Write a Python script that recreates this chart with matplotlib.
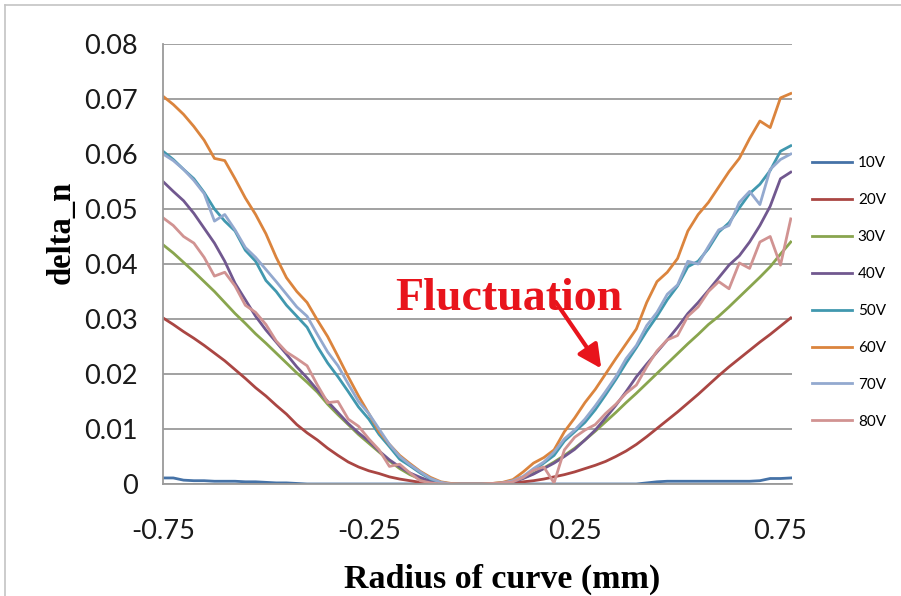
import matplotlib
matplotlib.use("Agg")
import matplotlib.pyplot as plt
import numpy as np
from matplotlib.lines import Line2D

# x positions (mm), step 0.025 from -0.75 to 0.775
radius = np.round(np.arange(-0.75, 0.7751, 0.025), 3)

labels = ["10V", "20V", "30V", "40V", "50V", "60V", "70V", "80V"]
colors = ["#4572A7", "#AA4643", "#89A54E", "#71588F",
          "#4198AF", "#DB843D", "#93A9CF", "#D19392"]

v10 = [0.0011, 0.0011, 0.0007, 0.0006, 0.0006, 0.0005, 0.0005, 0.0005, 0.0004, 0.0004,
       0.0003, 0.0002, 0.0002, 0.0001, 0, 0, 0, 0, 0, 0,
       0, 0, 0, 0, 0, 0, 0, 0, 0, 0,
       0, 0, 0, 0, 0, 0, 0, 0, 0, 0,
       0, 0, 0, 0, 0, 0, 0, 0.0002, 0.0004, 0.0005,
       0.0005, 0.0005, 0.0005, 0.0005, 0.0005, 0.0005, 0.0005, 0.0005, 0.0006, 0.0010,
       0.0010, 0.0011]
v20 = [0.0302, 0.0290, 0.0277, 0.0265, 0.0252, 0.0238, 0.0224, 0.0208, 0.0192, 0.0175,
       0.0160, 0.0143, 0.0127, 0.0108, 0.0093, 0.0080, 0.0065, 0.0052, 0.0040, 0.0031,
       0.0024, 0.0019, 0.0013, 0.0009, 0.0006, 0.0003, 0.0001, 0, 0, 0,
       0, 0, 0, 0.0001, 0.0002, 0.0004, 0.0006, 0.0009, 0.0013, 0.0017,
       0.0022, 0.0028, 0.0034, 0.0041, 0.0050, 0.0060, 0.0072, 0.0086, 0.0101, 0.0116,
       0.0131, 0.0147, 0.0163, 0.0180, 0.0197, 0.0213, 0.0228, 0.0243, 0.0258, 0.0272,
       0.0287, 0.0302]
v30 = [0.0435, 0.0420, 0.0403, 0.0386, 0.0368, 0.0350, 0.0330, 0.0310, 0.0292, 0.0273,
       0.0256, 0.0238, 0.0220, 0.0202, 0.0185, 0.0167, 0.0145, 0.0126, 0.0108, 0.0090,
       0.0074, 0.0058, 0.0042, 0.0028, 0.0017, 0.0009, 0.0004, 0.0001, 0, 0,
       0, 0, 0.0001, 0.0002, 0.0005, 0.0011, 0.0019, 0.0029, 0.0040, 0.0052,
       0.0065, 0.0080, 0.0096, 0.0113, 0.0130, 0.0148, 0.0165, 0.0183, 0.0201, 0.0219,
       0.0237, 0.0255, 0.0272, 0.0290, 0.0305, 0.0322, 0.0340, 0.0358, 0.0376, 0.0395,
       0.0418, 0.0440]
v40 = [0.0550, 0.0532, 0.0515, 0.0492, 0.0465, 0.0438, 0.0405, 0.0365, 0.0335, 0.0305,
       0.0280, 0.0258, 0.0236, 0.0213, 0.0193, 0.0171, 0.0150, 0.0130, 0.0110, 0.0093,
       0.0078, 0.0060, 0.0044, 0.0031, 0.0020, 0.0012, 0.0005, 0.0002, 0, 0,
       0, 0, 0, 0.0001, 0.0004, 0.0010, 0.0018, 0.0028, 0.0038, 0.0050,
       0.0063, 0.0080, 0.0098, 0.0120, 0.0143, 0.0168, 0.0195, 0.0218, 0.0240, 0.0262,
       0.0285, 0.0310, 0.0330, 0.0352, 0.0375, 0.0398, 0.0415, 0.0440, 0.0470, 0.0505,
       0.0555, 0.0567]
v50 = [0.0605, 0.0590, 0.0572, 0.0555, 0.0530, 0.0500, 0.0478, 0.0460, 0.0425, 0.0405,
       0.0370, 0.0350, 0.0325, 0.0305, 0.0285, 0.0250, 0.0220, 0.0195, 0.0168, 0.0140,
       0.0118, 0.0090, 0.0068, 0.0045, 0.0033, 0.0020, 0.0009, 0.0003, 0, 0,
       0, 0, 0, 0.0002, 0.0005, 0.0012, 0.0025, 0.0038, 0.0052, 0.0078,
       0.0095, 0.0112, 0.0135, 0.0162, 0.0190, 0.0220, 0.0248, 0.0278, 0.0305, 0.0335,
       0.0360, 0.0395, 0.0405, 0.0428, 0.0458, 0.0475, 0.0502, 0.0528, 0.0545, 0.0570,
       0.0605, 0.0615]
v60 = [0.0705, 0.0690, 0.0672, 0.0650, 0.0625, 0.0592, 0.0588, 0.0555, 0.0520, 0.0490,
       0.0455, 0.0412, 0.0375, 0.0350, 0.0330, 0.0298, 0.0268, 0.0232, 0.0195, 0.0160,
       0.0128, 0.0095, 0.0072, 0.0052, 0.0037, 0.0023, 0.0012, 0.0004, 0.0001, 0,
       0, 0, 0.0001, 0.0003, 0.0008, 0.0022, 0.0038, 0.0048, 0.0062, 0.0095,
       0.0120, 0.0148, 0.0172, 0.0200, 0.0228, 0.0255, 0.0282, 0.0330, 0.0368, 0.0385,
       0.0410, 0.0460, 0.0490, 0.0512, 0.0540, 0.0568, 0.0592, 0.0628, 0.0660, 0.0648,
       0.0702, 0.0710]
v70 = [0.0600, 0.0588, 0.0572, 0.0552, 0.0528, 0.0478, 0.0490, 0.0462, 0.0430, 0.0412,
       0.0390, 0.0368, 0.0345, 0.0322, 0.0305, 0.0272, 0.0240, 0.0215, 0.0182, 0.0150,
       0.0128, 0.0100, 0.0072, 0.0050, 0.0035, 0.0022, 0.0010, 0.0003, 0, 0,
       0, 0, 0, 0.0002, 0.0006, 0.0014, 0.0028, 0.0040, 0.0058, 0.0082,
       0.0098, 0.0118, 0.0142, 0.0168, 0.0195, 0.0228, 0.0252, 0.0288, 0.0312, 0.0345,
       0.0362, 0.0405, 0.0400, 0.0432, 0.0462, 0.0470, 0.0512, 0.0532, 0.0508, 0.0572,
       0.0590, 0.0600]
v80 = [0.0484, 0.0470, 0.0450, 0.0438, 0.0412, 0.0378, 0.0385, 0.0360, 0.0325, 0.0312,
       0.0290, 0.0260, 0.0240, 0.0228, 0.0215, 0.0180, 0.0148, 0.0150, 0.0118, 0.0105,
       0.0082, 0.0062, 0.0032, 0.0036, 0.0020, 0.0006, 0.0002, 0, 0, 0,
       0, 0, 0.0001, 0.0002, 0.0004, 0.0012, 0.0025, 0.0031, 0.0002, 0.0062,
       0.0085, 0.0098, 0.0108, 0.0128, 0.0145, 0.0165, 0.0180, 0.0213, 0.0242, 0.0262,
       0.0270, 0.0305, 0.0322, 0.0350, 0.0368, 0.0355, 0.0402, 0.0392, 0.0440, 0.0450,
       0.0398, 0.0482]

series = [v10, v20, v30, v40, v50, v60, v70, v80]

yticks = [0, 0.01, 0.02, 0.03, 0.04, 0.05, 0.06, 0.07, 0.08]
ytick_labels = ["0", "0.01", "0.02", "0.03", "0.04", "0.05", "0.06", "0.07", "0.08"]
xticks = [-0.75, -0.25, 0.25, 0.75]
xtick_labels = ["-0.75", "-0.25", "0.25", "0.75"]

plt.rcParams["font.family"] = ["Lato", "DejaVu Sans"]
serif = ["Liberation Serif", "DejaVu Serif"]
red = "#e8141c"
grid_col = "#9a9a9a"

W, H = 901, 596
fig = plt.figure(figsize=(W / 100, H / 100), dpi=100)
ax = fig.add_axes([163 / W, (H - 484) / H, (792 - 163) / W, (484 - 44) / H])

for vals, lab, col in zip(series, labels, colors):
    ax.plot(radius, vals, color=col, lw=2.0, label=lab, solid_joinstyle="round")

ax.set_xlim(-0.75, 0.778)
ax.set_ylim(0, 0.08)
ax.set_yticks(yticks)
ax.set_yticklabels(ytick_labels)
ax.set_xticks(xticks)
ax.set_xticklabels(xtick_labels)
ax.yaxis.grid(True, color=grid_col, lw=1.3)
ax.set_axisbelow(True)
for s in ("top", "right"):
    ax.spines[s].set_visible(False)
for s in ("left", "bottom"):
    ax.spines[s].set_color(grid_col)
    ax.spines[s].set_linewidth(1.3)
ax.tick_params(axis="y", length=0, pad=18, labelsize=19.5, labelcolor="#1a1a1a")
ax.tick_params(axis="x", length=0, pad=25, labelsize=19.5, labelcolor="#1a1a1a")

fig.legend(loc="center left", bbox_to_anchor=(812 / W, 1 - 292.5 / H),
           frameon=False, fontsize=11, handlelength=2.6, handletextpad=0.4,
           labelspacing=1.5, borderpad=0, borderaxespad=0)

fig.text(61 / W, 1 - 232 / H, "delta_n", rotation=90, ha="center", va="center",
         family=serif, fontweight="bold", fontsize=23.5)
fig.text(502 / W, (H - 588) / H, "Radius of curve (mm)", ha="center", va="baseline",
         family=serif, fontweight="bold", fontsize=24.5)

ax.text(0.091, 0.0316, "Fluctuation", color=red, fontsize=33, fontweight="bold",
        family=serif, ha="center", va="baseline")
ax.annotate("", xy=(0.3147, 0.0210), xytext=(0.204, 0.0331),
            arrowprops=dict(arrowstyle="-|>", color=red, lw=3, mutation_scale=35,
                            shrinkA=0, shrinkB=0))

# light frame of the original chart area (left and top edges)
fig.add_artist(Line2D([5 / W, 5 / W], [0, 1 - 5 / H], color="#c4c4c4", lw=1.2))
fig.add_artist(Line2D([5 / W, 1], [1 - 5 / H, 1 - 5 / H], color="#c4c4c4", lw=1.2))

fig.savefig("out.png", dpi=100)
